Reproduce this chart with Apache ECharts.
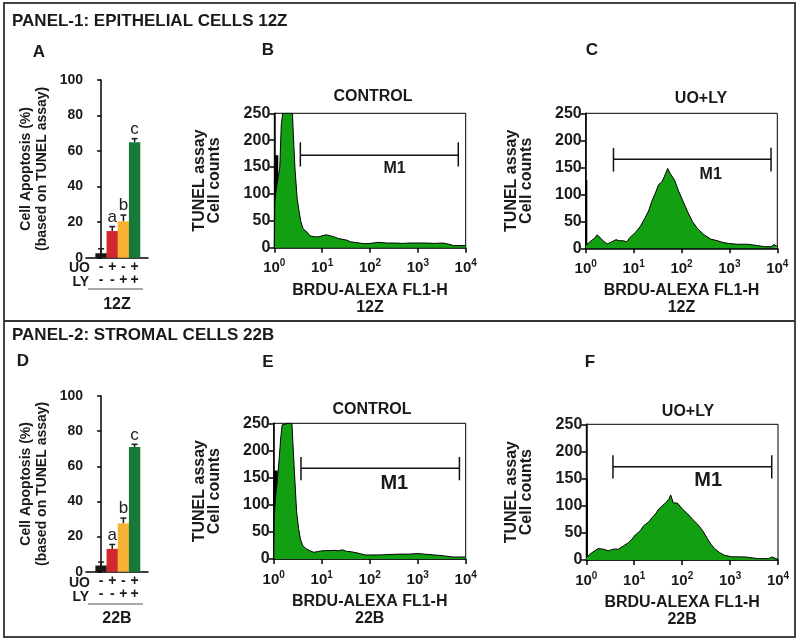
<!DOCTYPE html>
<html><head><meta charset="utf-8">
<script src="https://cdn.jsdelivr.net/npm/echarts@6/dist/echarts.min.js"></script>
<style>html,body{margin:0;padding:0;background:#fff}#c{width:800px;height:642px}</style>
</head><body><div id="c"></div>
<script>
// ---------- DATA ----------
const signsUO = ['-', '+', '-', '+'];
const signsLY = ['-', '-', '+', '+'];
const apopt12Z = [2.5, 15, 20.5, 65];
const apoptErr12Z = [2.5, 2.5, 3.5, 2];
const apopt22B = [3.5, 13, 27.5, 71];
const apoptErr22B = [2, 2.5, 3, 1.5];
const sigLetters = ['', 'a', 'b', 'c'];
const barTicks = [0, 20, 40, 60, 80, 100];
const histTicks = [0, 50, 100, 150, 200, 250];
const decadeTicks = [1, 10, 100, 1000, 10000];

// B: 12Z control
const ctrl12Z_fl1 = [1, 1.03, 1.1, 1.2, 1.3, 1.4, 1.5, 2.0, 2.4, 2.5, 2.7, 3.0, 3.3, 3.6, 4.0, 4.7, 5.6, 6.8, 8.2, 10, 12, 15, 18, 22, 27, 33, 39, 47, 56, 68, 82, 100, 150, 220, 330, 470, 680, 1000, 1500, 2200, 3300, 4700, 5600, 10000];
const ctrl12Z_cnt = [0, 85, 110, 130, 148, 229, 250, 250, 250, 210, 148, 92, 67, 48, 35, 30, 22, 20.5, 20, 22, 24, 22, 20, 17, 15.5, 14, 11, 10, 9, 8, 7.5, 8, 10, 8.7, 8.7, 8, 8.7, 8.7, 8.7, 8, 8.7, 6, 4, 4];
// C: 12Z UO+LY
const uoly12Z_fl1 = [1, 1.12, 1.3, 1.55, 1.73, 2.0, 2.3, 2.8, 3.5, 4.3, 5.0, 6.1, 7.2, 8.4, 10.8, 13.7, 17.5, 20.5, 24, 28.4, 33.3, 39, 44, 51.5, 58.6, 71, 88, 108, 132, 168, 214, 295, 408, 563, 718, 955, 1480, 2400, 3900, 5400, 7500, 8500, 10000];
const uoly12Z_cnt = [5, 9, 14, 19, 25, 20, 14, 8, 12, 16, 14, 14, 12, 20, 29, 40, 57, 69, 87, 102, 118, 123, 133, 148, 138, 127, 105, 87, 69, 50, 37, 25, 17, 14, 11, 9, 7.5, 7.5, 5, 3, 3, 7, 3];
// E: 22B control
const ctrl22B_fl1 = [1, 1.03, 1.1, 1.2, 1.3, 1.4, 1.5, 2.0, 2.4, 2.5, 2.7, 3.0, 3.3, 3.6, 4.0, 4.7, 5.6, 6.8, 8.2, 10, 12, 15, 18, 22, 27, 33, 39, 47, 56, 68, 82, 100, 150, 220, 330, 470, 680, 1000, 1500, 2200, 3300, 4700, 5600, 10000];
const ctrl22B_cnt = [0, 80, 117, 148, 184, 223, 247, 250, 250, 217, 161, 87, 56, 37, 25, 19, 15.5, 12.4, 13.6, 15, 15.5, 15.5, 16, 15, 17, 14, 13.6, 12.4, 11, 9, 7.4, 7.4, 7.4, 8, 8.7, 9, 9, 10, 8.7, 7.4, 6.2, 4.3, 3.7, 3.7];
// F: 22B UO+LY
const uoly22B_fl1 = [1, 1.18, 1.5, 1.76, 2.25, 2.87, 3.66, 4.67, 5.95, 7.6, 8.9, 10.5, 13.4, 15.7, 20, 23.6, 27.8, 32.7, 38.4, 45, 53, 57.5, 65.6, 79.5, 101, 130, 165, 210, 269, 343, 400, 474, 604, 771, 1067, 2040, 3900, 6300, 7500, 10000];
const uoly22B_cnt = [4, 10.5, 17, 21, 20, 17, 20, 20, 26, 32, 38, 46, 54, 63, 70, 78, 85, 94, 100, 105, 112, 120, 105, 105, 94, 85, 75, 66, 54, 38, 29, 21, 13.6, 8.6, 6, 5.6, 2.5, 2.5, 5.6, 1];

// first-channel spikes: [fl1, from count, to count]
const spike12Zctrl = [1.1, 95, 172];
const spike12Zuoly = [1.03, 0, 127];
const spike22Bctrl = [1.1, 90, 163];
const spike22Buoly = [1.03, 0, 149];
// M1 gates: [lo, hi, count, tickLo, tickHi], label at [fl1, count]
const gate12Zctrl = [3.5, 7000, 172, 151, 196];
const gate12Zuoly = [3.8, 7400, 165, 142, 186];
const gate22Bctrl = [3.7, 7400, 167, 145, 188];
const gate22Buoly = [3.6, 7400, 172, 150, 193];
const m1Pos12Zctrl = [325, 148];
const m1Pos12Zuoly = [407, 136];
const m1Pos22Bctrl = [325, 139];
const m1Pos22Buoly = [350, 147];

// ---------- STYLE / LAYOUT ----------
const FONT = '"Liberation Sans", Arial, sans-serif';
const TXT = '#1a1a1a';
const HIST_GREEN = '#12a012';
const barColors = ['#161616', '#d2282e', '#f8b233', '#17783a'];

const grids = [
  {left: 86, top: 80, width: 62, height: 177.7},      // A
  {left: 274.3, top: 113.3, width: 191.4, height: 134.4}, // B
  {left: 585.7, top: 113.3, width: 191.6, height: 135},   // C
  {left: 86, top: 396, width: 62, height: 175.7},     // D
  {left: 273.7, top: 423.3, width: 192, height: 135.7},   // E
  {left: 586.3, top: 424.3, width: 191.7, height: 135.7}  // F
];

const gridOpts = grids.map((g, i) => Object.assign({}, g, {
  containLabel: false,
  show: !(i === 0 || i === 3),
  borderColor: '#000', borderWidth: 1, backgroundColor: 'transparent'
}));

const xAxes = [], yAxes = [], series = [];

function barAxes(gi, label) {
  xAxes.push({
    gridIndex: gi, type: 'value', min: -1.35, max: 4.2,
    axisLine: {show: true, lineStyle: {color: '#000', width: 1.5}},
    axisTick: {show: false}, splitLine: {show: false},
    axisLabel: {
      customValues: [0, 1, 2, 3], margin: 3,
      formatter: v => signsUO[Math.round(v)] + '\n' + signsLY[Math.round(v)],
      fontFamily: FONT, fontWeight: 'bold', fontSize: 14, lineHeight: 13, color: TXT
    },
    name: label, nameLocation: 'middle', nameGap: 39,
    nameTextStyle: {fontFamily: FONT, fontWeight: 'bold', fontSize: 16, color: TXT}
  });
  yAxes.push({
    gridIndex: gi, type: 'value', min: 0, max: 100, interval: 20,
    axisLine: {show: true, lineStyle: {color: '#000', width: 1.5}},
    axisTick: {show: true, length: 4, lineStyle: {color: '#000', width: 1.5}},
    splitLine: {show: false},
    axisLabel: {fontFamily: FONT, fontWeight: 'bold', fontSize: 14, color: TXT, margin: 3},
    name: 'Cell Apoptosis (%)\n(based on TUNEL assay)', nameLocation: 'middle', nameGap: 36,
    nameTextStyle: {fontFamily: FONT, fontWeight: 'bold', fontSize: 14, lineHeight: 16, color: TXT}
  });
}

function histAxes(gi, label) {
  xAxes.push({
    gridIndex: gi, type: 'log', logBase: 10, min: 1, max: 10000,
    axisLine: {show: true, lineStyle: {color: '#000', width: 1.5}},
    axisTick: {show: true, length: 5, lineStyle: {color: '#000', width: 1.5}},
    minorTick: {show: false}, splitLine: {show: false},
    axisLabel: {
      margin: 11, color: TXT,
      formatter: v => '{b|10}{s|' + Math.round(Math.log10(v)) + '}',
      rich: {
        b: {fontFamily: FONT, fontWeight: 'bold', fontSize: 15, color: TXT},
        s: {fontFamily: FONT, fontWeight: 'bold', fontSize: 10, color: TXT, padding: [0, 0, 9, 0]}
      }
    },
    name: 'BRDU-ALEXA FL1-H\n' + label, nameLocation: 'middle', nameGap: 34,
    nameTextStyle: {fontFamily: FONT, fontWeight: 'bold', fontSize: 16, lineHeight: 17, color: TXT}
  });
  yAxes.push({
    gridIndex: gi, type: 'value', min: 0, max: 250, interval: 50,
    axisLine: {show: true, lineStyle: {color: '#000', width: 1.5}},
    axisTick: {show: true, length: 5, lineStyle: {color: '#000', width: 1.5}},
    splitLine: {show: false},
    axisLabel: {fontFamily: FONT, fontWeight: 'bold', fontSize: 16, color: TXT, margin: 4},
    name: 'TUNEL assay\nCell counts', nameLocation: 'middle', nameGap: 52,
    nameTextStyle: {fontFamily: FONT, fontWeight: 'bold', fontSize: 16, lineHeight: 15, color: TXT}
  });
}

function addBars(gi, vals, errs) {
  series.push({
    type: 'bar', xAxisIndex: gi, yAxisIndex: gi, barWidth: 11.4, silent: true,
    data: vals.map((v, i) => ({value: [i, v], itemStyle: {color: barColors[i]}}))
  });
  series.push({
    type: 'custom', xAxisIndex: gi, yAxisIndex: gi, silent: true,
    data: vals.map((v, i) => [i, v, errs[i]]),
    renderItem: (params, api) => {
      const x = api.value(0), v = api.value(1), e = api.value(2);
      const p0 = api.coord([x, v]), p1 = api.coord([x, v + e]);
      const st = {stroke: '#1a1a1a', lineWidth: 1.5};
      const ch = [
        {type: 'line', shape: {x1: p0[0], y1: p0[1], x2: p1[0], y2: p1[1]}, style: st},
        {type: 'line', shape: {x1: p1[0] - 3, y1: p1[1], x2: p1[0] + 3, y2: p1[1]}, style: st}
      ];
      const t = sigLetters[params.dataIndex];
      if (t) ch.push({type: 'text', x: p1[0], y: p1[1] - 1,
        style: {text: t, font: '17px ' + FONT, fill: '#222', align: 'center', verticalAlign: 'bottom'}});
      return {type: 'group', children: ch};
    }
  });
}

function addHist(gi, xs, ys, spike, spikeW, gate, m1, m1Size) {
  series.push({
    type: 'line', xAxisIndex: gi, yAxisIndex: gi, silent: true, showSymbol: false, clip: true,
    data: xs.map((x, i) => [x, ys[i]]),
    lineStyle: {color: '#000', width: 1},
    areaStyle: {color: HIST_GREEN, opacity: 1}
  });
  series.push({
    type: 'custom', xAxisIndex: gi, yAxisIndex: gi, silent: true,
    data: [spike],
    renderItem: (params, api) => {
      const a = api.coord([api.value(0), api.value(1)]), b = api.coord([api.value(0), api.value(2)]);
      return {type: 'line', shape: {x1: a[0], y1: a[1], x2: b[0], y2: b[1]}, style: {stroke: '#000', lineWidth: spikeW}};
    }
  });
  series.push({
    type: 'custom', xAxisIndex: gi, yAxisIndex: gi, silent: true,
    data: [gate.concat(m1)],
    renderItem: (params, api) => {
      const lo = api.value(0), hi = api.value(1), y = api.value(2), t0 = api.value(3), t1 = api.value(4);
      const a = api.coord([lo, y]), b = api.coord([hi, y]);
      const la = api.coord([lo, t0]), lb = api.coord([lo, t1]);
      const ra = api.coord([hi, t0]), rb = api.coord([hi, t1]);
      const m = api.coord([api.value(5), api.value(6)]);
      const st = {stroke: '#111', lineWidth: 1.5};
      return {type: 'group', children: [
        {type: 'line', shape: {x1: a[0], y1: a[1], x2: b[0], y2: b[1]}, style: st},
        {type: 'line', shape: {x1: la[0], y1: la[1], x2: lb[0], y2: lb[1]}, style: st},
        {type: 'line', shape: {x1: ra[0], y1: ra[1], x2: rb[0], y2: rb[1]}, style: st},
        {type: 'text', x: m[0], y: m[1], style: {text: 'M1', font: 'bold ' + m1Size + 'px ' + FONT, fill: TXT, align: 'center', verticalAlign: 'middle'}}
      ]};
    }
  });
}

barAxes(0, '12Z'); addBars(0, apopt12Z, apoptErr12Z);
histAxes(1, '12Z'); addHist(1, ctrl12Z_fl1, ctrl12Z_cnt, spike12Zctrl, 4, gate12Zctrl, m1Pos12Zctrl, 16);
histAxes(2, '12Z'); addHist(2, uoly12Z_fl1, uoly12Z_cnt, spike12Zuoly, 2, gate12Zuoly, m1Pos12Zuoly, 16);
barAxes(3, '22B'); addBars(3, apopt22B, apoptErr22B);
histAxes(4, '22B'); addHist(4, ctrl22B_fl1, ctrl22B_cnt, spike22Bctrl, 4, gate22Bctrl, m1Pos22Bctrl, 20);
histAxes(5, '22B'); addHist(5, uoly22B_fl1, uoly22B_cnt, spike22Buoly, 2, gate22Buoly, m1Pos22Buoly, 20);

function txt(t, x, y, size, align) {
  return {type: 'text', x: x, y: y, style: {text: t, font: 'bold ' + size + 'px ' + FONT, fill: TXT, align: align || 'center', verticalAlign: 'middle'}};
}
function hline(x1, x2, y, w) {
  return {type: 'line', shape: {x1: x1, y1: y, x2: x2, y2: y}, style: {stroke: '#333', lineWidth: w}};
}

const graphic = [
  {type: 'rect', shape: {x: 4, y: 3, width: 791, height: 634}, style: {fill: 'none', stroke: '#444', lineWidth: 2}},
  hline(4, 795, 321, 2),
  txt('PANEL-1: EPITHELIAL CELLS 12Z', 12, 21, 17, 'left'),
  txt('PANEL-2: STROMAL CELLS 22B', 12, 335, 17, 'left'),
  txt('A', 39, 52, 17), txt('B', 268, 50, 17), txt('C', 592, 50, 17),
  txt('D', 23, 361, 17), txt('E', 268, 362, 17), txt('F', 590, 362, 17),
  txt('CONTROL', 373, 97, 16), txt('UO+LY', 701, 99, 16),
  txt('CONTROL', 372, 410, 16), txt('UO+LY', 688, 412, 16),
  txt('UO', 90, 268, 14, 'right'), txt('LY', 89, 282, 14, 'right'),
  txt('UO', 90, 583, 14, 'right'), txt('LY', 89, 597, 14, 'right'),
  {type: 'line', shape: {x1: 88, y1: 289, x2: 143, y2: 289}, style: {stroke: '#555', lineWidth: 1}},
  {type: 'line', shape: {x1: 88, y1: 604, x2: 143, y2: 604}, style: {stroke: '#555', lineWidth: 1}}
];

const chart = echarts.init(document.getElementById('c'), null, {renderer: 'canvas'});
chart.setOption({
  animation: false,
  backgroundColor: '#fff',
  grid: gridOpts,
  xAxis: xAxes,
  yAxis: yAxes,
  series: series,
  graphic: graphic
});
</script></body></html>
